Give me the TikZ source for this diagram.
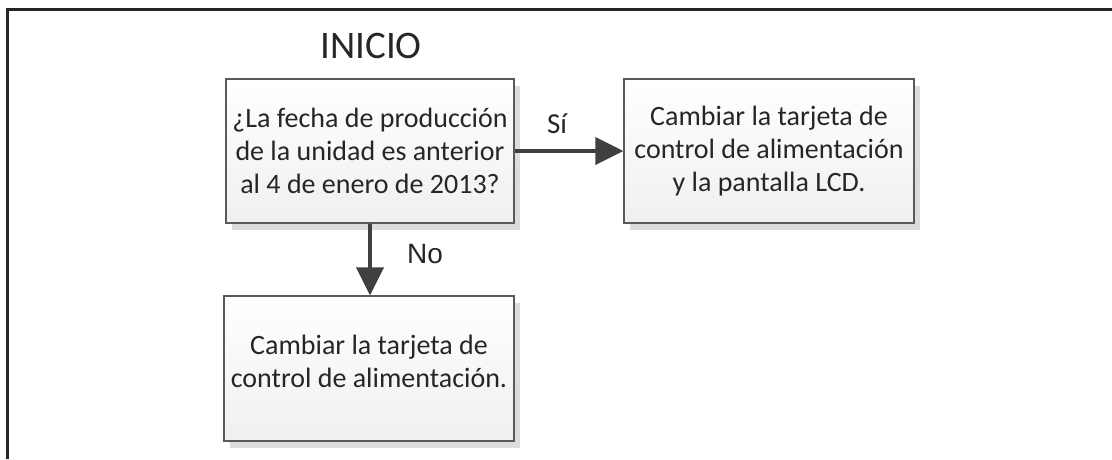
\documentclass[tikz,border=0pt]{standalone}
\usepackage{fontspec}
\setmainfont{Carlito}
\newfontfamily\nofont{Liberation Sans}
\usetikzlibrary{arrows.meta,shadows}
\definecolor{txt}{HTML}{262626}
\definecolor{arr}{HTML}{404040}
\definecolor{edge}{HTML}{5A5A5A}
\definecolor{shad}{HTML}{DCDCDC}
\tikzset{
  flowbox/.style={draw=edge, line width=1.2pt, rectangle, top color=white, bottom color=gray!12,
    text=txt, align=center, inner sep=0pt,
    font=\fontsize{28}{33}\selectfont,
    drop shadow={shadow xshift=6pt, shadow yshift=-7pt, fill=shad, opacity=1}},
  flowarrow/.style={draw=arr, line width=4pt, -{Triangle[length=28pt,width=27pt]}},
  lbl/.style={text=txt, font=\fontsize{29}{33}\selectfont, inner sep=0pt},
}
\begin{document}
\begin{tikzpicture}[x=1pt,y=-1pt]
\useasboundingbox (0,0) rectangle (1112,459);
\draw[line width=3pt, color=txt, line join=miter] (7,459) -- (7,9) -- (1112,9);
\node[lbl, font=\fontsize{39}{44}\selectfont] (inicio) at (371,46) {INICIO};
\node[flowbox, minimum width=288pt, minimum height=144pt] (q) at (370,151)
  {¿La fecha de producción\\de la unidad es anterior\\al 4 de enero de 2013?};
\node[flowbox, minimum width=290pt, minimum height=144pt] (y) at (769,151)
  {Cambiar la tarjeta de\\control de alimentación\\y la pantalla LCD.};
\node[flowbox, minimum width=290pt, minimum height=145pt] (n) at (369,368.5)
  {Cambiar la tarjeta de\\control de alimentación.\\[-18pt]\mbox{}};
\draw[flowarrow] (q.east) -- (y.west);
\draw[flowarrow] (q.south) -- (q.south |- n.north);
\node[lbl] (si) at (557,124) {Sí};
\node[lbl, font=\nofont\fontsize{28}{33}\selectfont] (no) at (425,254) {No};
\end{tikzpicture}
\end{document}
